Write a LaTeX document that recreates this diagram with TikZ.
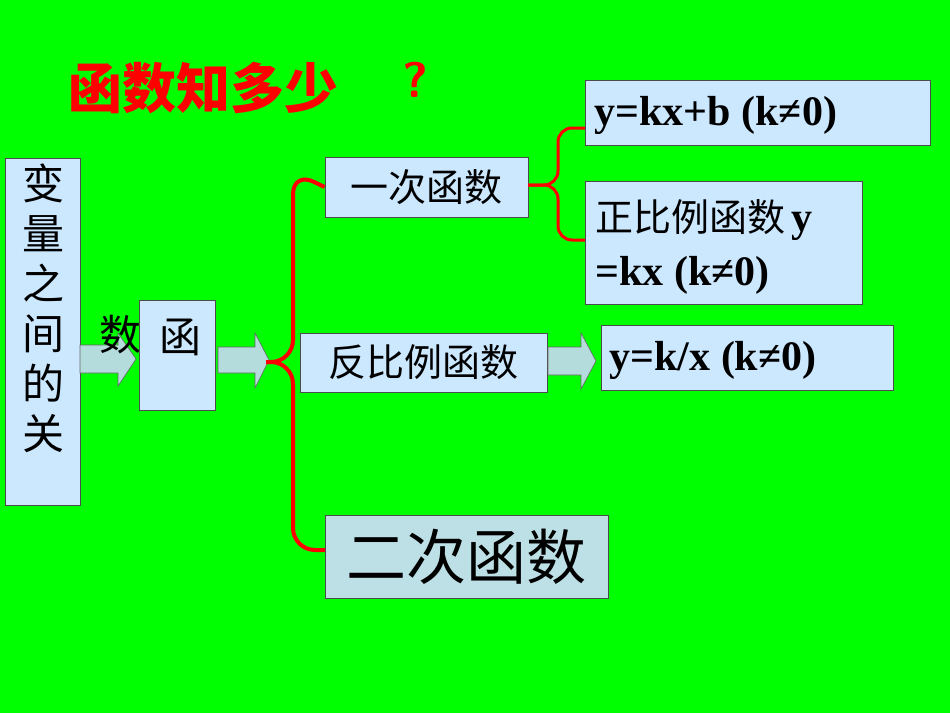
\documentclass[tikz,border=0pt]{standalone}
\usepackage{fontspec}
\setmainfont{Liberation Serif}
\newfontfamily\cjk{Noto Sans CJK SC}
\definecolor{boxfill}{HTML}{CCE8FF}
\definecolor{arrfill}{HTML}{B4DCDC}
\definecolor{ecfill}{HTML}{BDE0E6}
\begin{document}
\begin{tikzpicture}[x=1pt,y=-1pt,
  box/.style={draw=black!70,fill=boxfill,inner sep=0pt,line width=0.8pt},
  arr/.style={draw=black!60,fill=arrfill,line width=0.6pt},
  brace/.style={draw=red,line width=4pt,rounded corners=22pt},
  lbl/.style={font=\cjk\fontsize{38}{42}\selectfont},
  math/.style={font=\bfseries\fontsize{42}{46}\selectfont,anchor=west}]
\fill[green] (0,0) rectangle (950,713);
\useasboundingbox (0,0) rectangle (950,713);
% title
\node[text=red,font=\cjk\bfseries\fontsize{54}{58}\selectfont,anchor=west,inner sep=0pt] (title) at (68,88) {函数知多少};
\node[text=red,font=\sffamily\bfseries\fontsize{50}{54}\selectfont] (q) at (415,80) {?};
% left tall box
\draw[box] (5,158) rectangle (80,505);
\node[align=center,font=\cjk\fontsize{42}{50}\selectfont,anchor=north] (v) at (43,160) {变\\量\\之\\间\\的\\关};
% arrow 1
\draw[arr] (80,345) -- (118,345) -- (118,333) -- (136,359) -- (118,386) -- (118,373) -- (80,373) -- cycle;
\node[font=\cjk\fontsize{42}{46}\selectfont] (shu) at (120,335) {数};
% 函 box
\draw[box] (139,300) rectangle (215,410);
\node[font=\cjk\fontsize{42}{46}\selectfont] (han) at (180,337) {函};
% arrow 2
\draw[arr] (218,347) -- (255,347) -- (255,333) -- (269,360) -- (255,388) -- (255,373) -- (218,373) -- cycle;
% boxes
\node[box,minimum width=203pt,minimum height=60pt,lbl] (yc) at (426.5,187) {一次函数};
\node[box,minimum width=345pt,minimum height=65pt] (ykx) at (757.5,112.5) {};
\node[math] at (591,115) {y=kx+b (k≠0)};
\node[box,minimum width=277pt,minimum height=123pt] (zb) at (723.5,242.5) {};
\node[font=\cjk\fontsize{38}{42}\selectfont,anchor=west] (zbt) at (592,220) {正比例函数\,{\rmfamily\bfseries\fontsize{42}{46}\selectfont y}};
\node[math] at (592,275) {=kx (k≠0)};
\node[box,minimum width=247pt,minimum height=59pt,lbl] (fb) at (423.5,362.5) {反比例函数};
\node[box,minimum width=292pt,minimum height=65pt] (ykx2) at (747,357.5) {};
\node[math] at (606,360) {y=k/x (k≠0)};
\node[box,fill=ecfill,minimum width=283pt,minimum height=83pt,font=\cjk\fontsize{60}{64}\selectfont] (ec) at (466.5,556.5) {二次函数};
% arrow 3
\draw[arr] (548,347) -- (581,347) -- (581,333) -- (596,361) -- (581,389) -- (581,375) -- (548,375) -- cycle;
% braces
\coordinate (b1) at (266,362);
\draw[brace] (b1) -- (293,362) -- (293,172) -- (yc.west);
\draw[brace] (b1) -- (293,362) -- (293,550) -- (325,550);
\coordinate (b2) at (528,185);
\draw[brace,line width=3pt,rounded corners=14pt] (b2) -- (558,185) -- (558,128) -- (585,128);
\draw[brace,line width=3pt,rounded corners=14pt] (b2) -- (558,185) -- (558,240) -- (585,240);
\end{tikzpicture}
\end{document}
